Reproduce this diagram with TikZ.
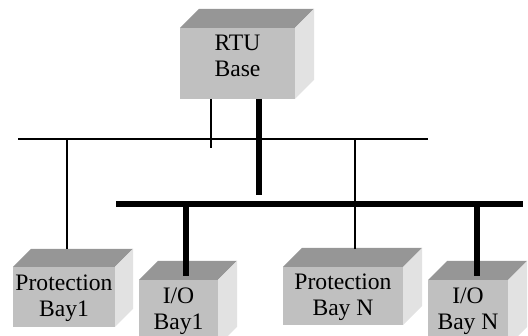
\documentclass[tikz,border=0pt]{standalone}
\usepackage{fontspec}
\setmainfont{Liberation Serif}
\definecolor{frontgray}{HTML}{C0C0C0}
\definecolor{topgray}{HTML}{969696}
\definecolor{sidegray}{HTML}{E2E2E2}
% a shaded unit: top face, right face, then the named front face
\newcommand\unitbox[6]{%
  \fill[topgray] (#2,#3) -- ++(#6,-#6) -- ({#4+#6},{#3-#6}) -- (#4,#3) -- cycle;
  \fill[sidegray] (#4,#3) -- ({#4+#6},{#3-#6}) -- ({#4+#6},{#5-#6}) -- (#4,#5) -- cycle;
  \node[frontface, minimum width={#4-#2}, minimum height={#5-#3}] (#1) at (#2,#3) {};
}
\begin{document}
\begin{tikzpicture}[x=1pt,y=-1pt]
\tikzset{
  frontface/.style={fill=frontgray, inner sep=0pt, outer sep=0pt, anchor=north west},
  boxlabel/.style={align=center, inner sep=0pt, anchor=base,
    font=\fontsize{23.6}{26}\selectfont},
  thinline/.style={line width=1.2pt, black},
  heavyline/.style={line width=6.5pt, black},
}
\useasboundingbox (0,0) rectangle (528,336);

% units
\unitbox{rtu}{180}{28}{295}{99}{19}
\unitbox{pb1}{13}{267}{115}{327}{18}
\unitbox{io1}{139}{280}{218}{346}{19}
\unitbox{pbn}{283}{267}{403}{325}{19}
\unitbox{ion}{428}{280}{508}{346}{19}

% labels (anchored on the baseline of the last line)
\node[boxlabel] (rtutext) at (237.5,77) {RTU\\Base};
\node[boxlabel] (pb1text) at (64,317) {Protection\\Bay1};
\node[boxlabel] (io1text) at (178.5,330) {I/O\\Bay1};
\node[boxlabel] (pbntext) at (343,316) {Protection\\Bay N};
\node[boxlabel] (iontext) at (468,330) {I/O\\Bay N};

% buses
\coordinate (thinL) at (18,139);
\coordinate (thinR) at (428,139);
\coordinate (heavyL) at (116,204);
\coordinate (heavyR) at (523,204);
\draw[thinline] (thinL) -- (thinR);
\draw[heavyline] (heavyL) -- (heavyR);

% RTU taps
\coordinate (tapthin) at (211,148);
\coordinate (tapheavy) at (259,195);
\draw[thinline] (rtu.south -| tapthin) -- (tapthin);
\draw[heavyline] (rtu.south -| tapheavy) -- (tapheavy);

% bay drops
\coordinate (pb1top) at (67,249);
\coordinate (pbntop) at (355,249);
\coordinate (io1top) at (186,276);
\coordinate (iontop) at (477,276);
\draw[thinline] (thinL -| pb1top) -- (pb1top);
\draw[thinline] (thinL -| pbntop) -- (pbntop);
\draw[heavyline] (heavyL -| io1top) -- (io1top);
\draw[heavyline] (heavyL -| iontop) -- (iontop);
\end{tikzpicture}
\end{document}
